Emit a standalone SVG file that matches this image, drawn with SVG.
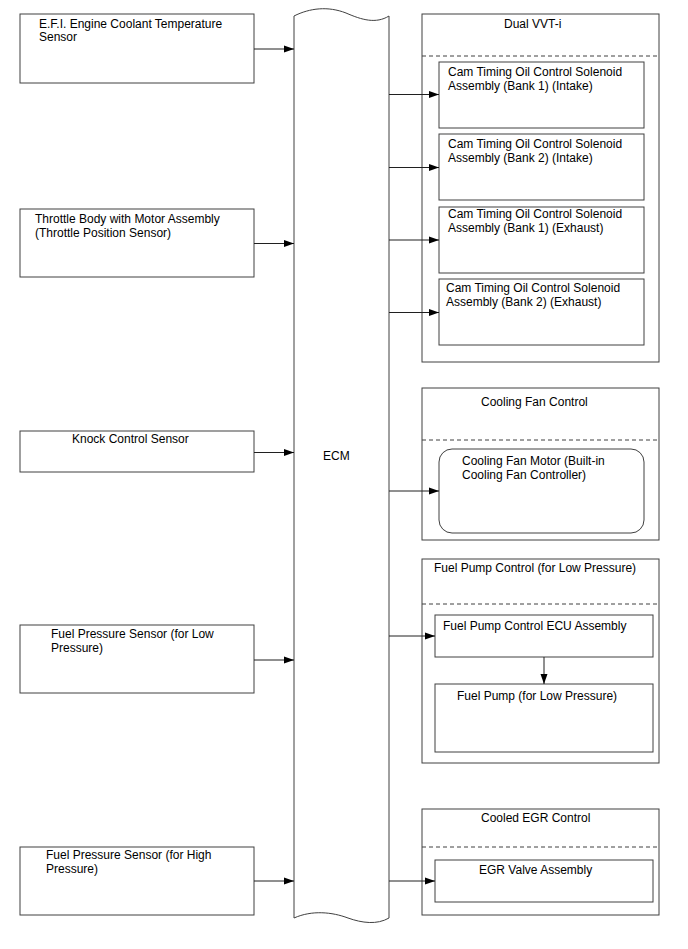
<svg xmlns="http://www.w3.org/2000/svg" width="688" height="949" viewBox="0 0 688 949">
<defs>
<marker id="arr" viewBox="0 0 10 8" refX="10" refY="4" markerWidth="10" markerHeight="8" markerUnits="userSpaceOnUse" orient="auto">
<path d="M0,0.5 L10,4 L0,7.5 Z" fill="#000"/>
</marker>
</defs>
<style>
.box{fill:#fff;stroke:#404040;stroke-width:1}
.dash{stroke:#404040;stroke-width:1;stroke-dasharray:4,3;fill:none}
.con{stroke:#202020;stroke-width:1;fill:none;marker-end:url(#arr)}
text{font-family:"Liberation Sans",Arial,sans-serif;font-size:12px;fill:#000}
</style>
<rect width="688" height="949" fill="#fff"/>

<g id="ecm">
<path class="box" d="M294,16 C310,8 328,6 346,13 C362,20 376,24 389,16 L389,918 C377,925 362,923 348,918 C332,912 312,910 294,918 Z"/>
<text x="323" y="460">ECM</text>
</g>

<g id="efi">
<rect class="box" x="20" y="14" width="234" height="69"/>
<text x="39" y="28">E.F.I. Engine Coolant Temperature</text>
<text x="39" y="41">Sensor</text>
</g>
<g id="throttle">
<rect class="box" x="20" y="209" width="234" height="68"/>
<text x="35" y="223">Throttle Body with Motor Assembly</text>
<text x="35" y="237">(Throttle Position Sensor)</text>
</g>
<g id="knock">
<rect class="box" x="20" y="431" width="234" height="41"/>
<text x="72" y="443">Knock Control Sensor</text>
</g>
<g id="fpsLow">
<rect class="box" x="20" y="625" width="234" height="68"/>
<text x="51" y="638">Fuel Pressure Sensor (for Low</text>
<text x="51" y="652">Pressure)</text>
</g>
<g id="fpsHigh">
<rect class="box" x="20" y="847" width="234" height="68"/>
<text x="46" y="859">Fuel Pressure Sensor (for High</text>
<text x="46" y="873">Pressure)</text>
</g>

<g id="vvt">
<rect class="box" x="422" y="14" width="237" height="348"/>
<text x="504" y="28">Dual VVT-i</text>
<line class="dash" x1="422" y1="56" x2="659" y2="56"/>
</g>
<g id="cam1">
<rect class="box" x="439" y="62" width="205" height="66"/>
<text x="448" y="76">Cam Timing Oil Control Solenoid</text>
<text x="448" y="90">Assembly (Bank 1) (Intake)</text>
</g>
<g id="cam2">
<rect class="box" x="439" y="134" width="205" height="66"/>
<text x="448" y="148">Cam Timing Oil Control Solenoid</text>
<text x="448" y="162">Assembly (Bank 2) (Intake)</text>
</g>
<g id="cam3">
<rect class="box" x="439" y="207" width="205" height="66"/>
<text x="448" y="218">Cam Timing Oil Control Solenoid</text>
<text x="448" y="232">Assembly (Bank 1) (Exhaust)</text>
</g>
<g id="cam4">
<rect class="box" x="439" y="279" width="205" height="66"/>
<text x="446" y="292">Cam Timing Oil Control Solenoid</text>
<text x="446" y="306">Assembly (Bank 2) (Exhaust)</text>
</g>

<g id="coolingFan">
<rect class="box" x="422" y="388" width="237" height="152"/>
<text x="481" y="406">Cooling Fan Control</text>
<line class="dash" x1="422" y1="440" x2="659" y2="440"/>
</g>
<g id="fanMotor">
<rect class="box" x="439" y="449" width="205" height="84" rx="13" ry="13"/>
<text x="462" y="465">Cooling Fan Motor (Built-in</text>
<text x="462" y="479">Cooling Fan Controller)</text>
</g>

<g id="fuelPumpCtrl">
<rect class="box" x="422" y="559" width="237" height="204"/>
<text x="434" y="572">Fuel Pump Control (for Low Pressure)</text>
<line class="dash" x1="422" y1="604" x2="659" y2="604"/>
</g>
<g id="fpEcu">
<rect class="box" x="435" y="615" width="218" height="42"/>
<text x="443" y="630">Fuel Pump Control ECU Assembly</text>
</g>
<g id="fuelPump">
<rect class="box" x="435" y="684" width="218" height="68"/>
<text x="457" y="700">Fuel Pump (for Low Pressure)</text>
</g>

<g id="egrCtrl">
<rect class="box" x="422" y="809" width="237" height="106"/>
<text x="481" y="822">Cooled EGR Control</text>
<line class="dash" x1="422" y1="847" x2="659" y2="847"/>
</g>
<g id="egrValve">
<rect class="box" x="435" y="860" width="218" height="42"/>
<text x="479" y="874">EGR Valve Assembly</text>
</g>

<g id="connectors">
<line class="con" x1="254" y1="49" x2="294" y2="49"/>
<line class="con" x1="254" y1="243.5" x2="294" y2="243.5"/>
<line class="con" x1="254" y1="452.5" x2="294" y2="452.5"/>
<line class="con" x1="254" y1="660" x2="294" y2="660"/>
<line class="con" x1="254" y1="881" x2="294" y2="881"/>
<line class="con" x1="389" y1="94.5" x2="439" y2="94.5"/>
<line class="con" x1="389" y1="167.5" x2="439" y2="167.5"/>
<line class="con" x1="389" y1="240" x2="439" y2="240"/>
<line class="con" x1="389" y1="312.5" x2="439" y2="312.5"/>
<line class="con" x1="389" y1="491" x2="439" y2="491"/>
<line class="con" x1="389" y1="636" x2="435" y2="636"/>
<line class="con" x1="544" y1="657" x2="544" y2="684"/>
<line class="con" x1="389" y1="881" x2="435" y2="881"/>
</g>
</svg>
